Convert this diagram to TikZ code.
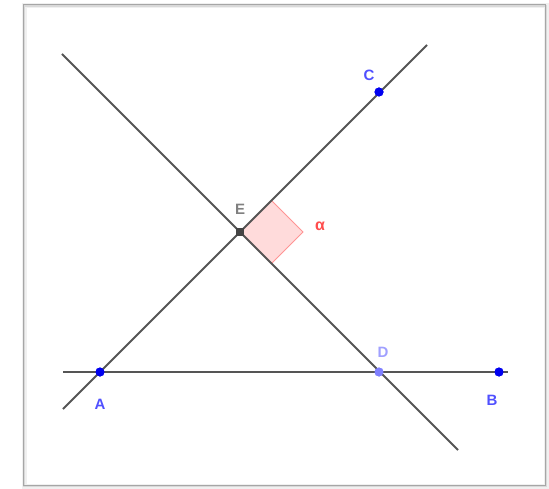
\documentclass[tikz,border=0pt]{standalone}
\usepackage{fontspec}
\setsansfont{Liberation Sans}
\usepackage{tikz}
\usetikzlibrary{positioning}

\definecolor{linegray}{HTML}{555555}
\definecolor{ptblue}{HTML}{0000F0}
\definecolor{lblblue}{HTML}{5050FF}
\definecolor{ptlight}{HTML}{8080FF}
\definecolor{lbllight}{HTML}{A0A0FF}
\definecolor{ptgray}{HTML}{444444}
\definecolor{anglered}{HTML}{FF4D4D}

\begin{document}
\begin{tikzpicture}[
    x=1pt, y=-1pt,
    font=\sffamily\bfseries\fontsize{15}{18}\selectfont,
    line/.style={draw=linegray, line width=1.8pt},
    dot/.style={circle, fill=#1, inner sep=0pt, minimum size=9pt},
    lbl/.style={inner sep=0pt, text=#1},
    rangle/.style={draw=anglered!60, fill=anglered!20, line width=0.8pt, line join=miter}
  ]
    \useasboundingbox (0,0) rectangle (549,489);
    % frame with its shadow
    \draw[gray!12, line width=5pt] (24,6) rectangle (546,486);
    \draw[gray!30, line width=2.5pt] (24,6) rectangle (546,486);
    \draw[gray!70, line width=1pt] (23,5) rectangle (545,485);
    % points
    \coordinate (E) at (240,232);
    \node[dot=ptblue]  (A) at (100,372) {};
    \node[dot=ptblue]  (B) at (499,372) {};
    \node[dot=ptblue]  (C) at (379,92)  {};
    \node[dot=ptlight] (D) at (379,372) {};
    % line ends
    \coordinate (AC1) at (63,409);
    \coordinate (AC2) at (427,45);
    \coordinate (DE1) at (62,54);
    \coordinate (DE2) at (458,450);
    \coordinate (AB1) at (63,372);
    \coordinate (AB2) at (508,372);
    % right angle at E
    \draw[rangle] (E) -- ++(31.5,-31.5) coordinate (Q1)
      -- ++(31.5,31.5) coordinate (Q) -- ++(-31.5,31.5) -- cycle;
    \draw[line] (AC1) -- (AC2);
    \draw[line] (DE1) -- (DE2);
    \draw[line] (AB1) -- (AB2);
    \node[dot=ptblue]  at (A) {};
    \node[dot=ptblue]  at (B) {};
    \node[dot=ptblue]  at (C) {};
    \node[dot=ptlight] at (D) {};
    \node[rectangle, fill=ptgray, inner sep=0pt, minimum size=8pt] (Ept) at (E) {};
    % labels
    \node[lbl=lblblue, below=27pt of A.center] (lA) {A};
    \node[lbl=lblblue, below=23pt of B.center, xshift=-7pt] (lB) {B};
    \node[lbl=lblblue, above=11pt of C.center, xshift=-10pt] (lC) {C};
    \node[lbl=lbllight, above=14pt of D.center, xshift=4pt] (lD) {D};
    \node[lbl=gray, above=17pt of Ept.center] (lE) {E};
    \node[lbl=anglered, font=\sffamily\bfseries\fontsize{16}{18}\selectfont,
          right=12pt of Q, yshift=6pt] (alpha) {α};
\end{tikzpicture}
\end{document}
